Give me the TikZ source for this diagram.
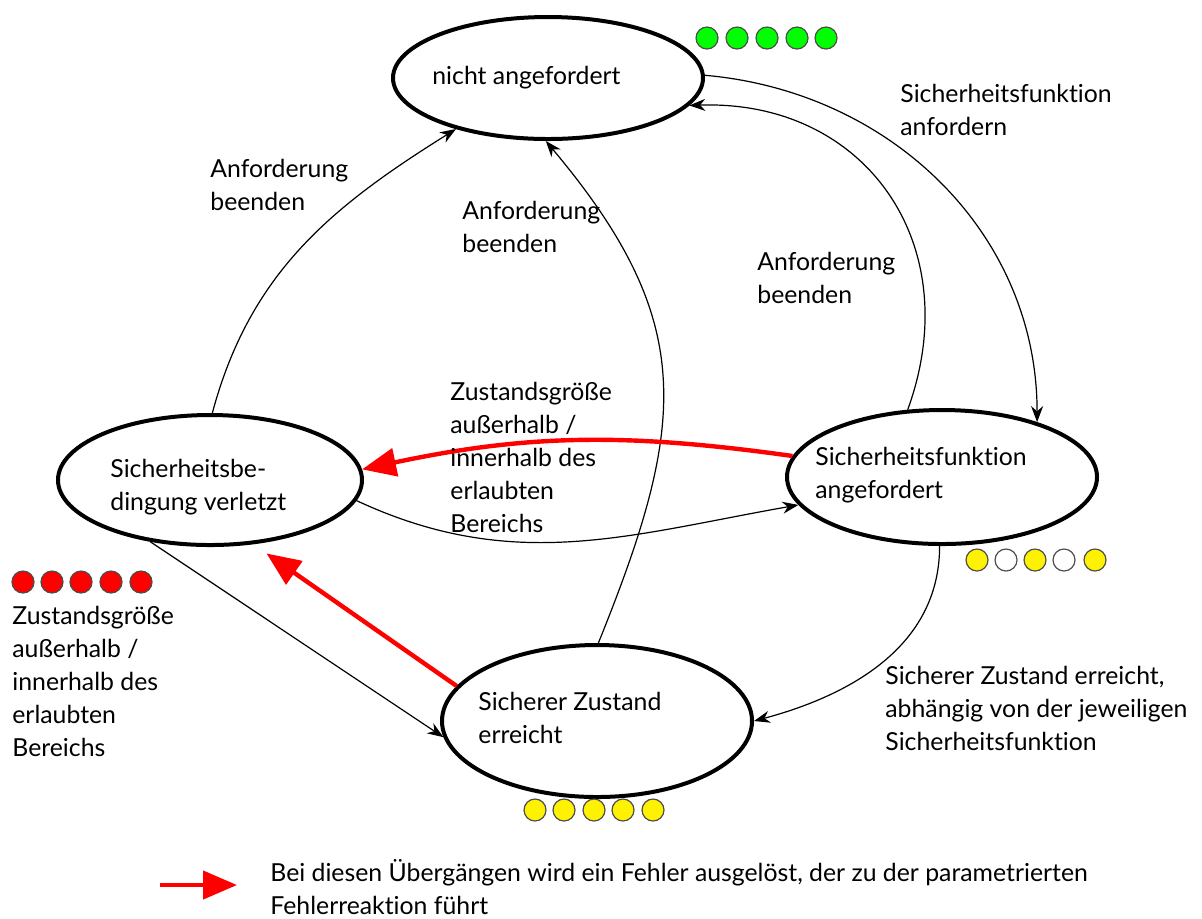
\documentclass[tikz,border=0pt]{standalone}
\usepackage{fontspec}
\setmainfont{Lato}[Ligatures=NoCommon]
\usetikzlibrary{shapes.geometric, arrows.meta, positioning}
\tikzset{
	statebox/.style={draw, ellipse, line width=2pt, inner sep=0pt}
}
\tikzset{
	labeltext/.style={font=\fontsize{12.4}{16.5}\selectfont, align=left, anchor=north west, inner sep=0pt}
}
\tikzset{
	thinarrow/.style={-{Stealth[length=8pt,width=6pt]}, line width=0.6pt}
}
\tikzset{
	errarrow/.style={-{Triangle[length=17pt,width=14pt]}, red, line width=2.2pt}
}
\tikzset{
	lamp/.style={circle, draw=black!70, line width=0.6pt, minimum size=11pt, inner sep=0pt}
}

\begin{document}
\begin{tikzpicture}[x=0.5pt, y=-0.5pt]
      \useasboundingbox (0,0) rectangle (1202,918);
      % states
      \node[statebox, minimum width=155pt, minimum height=61pt] (na) at (548,78) {};
      \node[statebox, minimum width=152pt, minimum height=65pt] (sb) at (210,480) {};
      \node[statebox, minimum width=155pt, minimum height=67pt] (sf) at (942,477) {};
      \node[statebox, minimum width=155pt, minimum height=76pt] (sz) at (597,721) {};
      \node[labeltext] (natext) at (432,66) {nicht angefordert};
      \node[labeltext] (sbtext) at (110,459) {Sicherheitsbe-\\dingung verletzt};
      \node[labeltext] (sftext) at (815,447) {Sicherheitsfunktion\\angefordert};
      \node[labeltext] (sztext) at (478,692) {Sicherer Zustand\\erreicht};
      % lamps
      \foreach \i/\x in {1/707, 2/737, 3/767, 4/797, 5/826}
        \node[lamp, fill=green] (g\i) at (\x,38) {};
      \foreach \i/\x/\c in {1/977/yellow, 2/1006/white, 3/1035/yellow, 4/1064/white, 5/1095/yellow}
        \node[lamp, fill=\c] (w\i) at (\x,560) {};
      \foreach \i/\x in {1/23, 2/52, 3/81, 4/111, 5/141}
        \node[lamp, fill=red] (r\i) at (\x,582) {};
      \foreach \i/\x in {1/535, 2/564, 3/594, 4/623, 5/653}
        \node[lamp, fill=yellow] (y\i) at (\x,810) {};
      % transitions
      \draw[thinarrow] (sb.88) to[out=75,in=212] (na.209);
      \draw[thinarrow] (sz.89) to[out=68,in=-50,looseness=1.2] (na.268);
      \draw[thinarrow] (sf.117) to[out=70,in=2,looseness=1.2] (na.349);
      \draw[thinarrow] (na.1) to[out=-5,in=90] (sf.30);
      \draw[errarrow] (sf.172) to[out=172,in=12] (sb.4);
      \draw[thinarrow] (sb.-8) to[out=-25,in=190] (sf.191);
      \draw[thinarrow] (sb.226) -- (sz.186);
      \draw[errarrow, shorten >=8pt] (sz.166) -- (sb.304);
      \draw[thinarrow] (sf.268) to[out=-90,in=15] (sz.0);
      \node[labeltext] (lbend1) at (210,159) {Anforderung\\beenden};
      \node[labeltext] (lbend2) at (462,201) {Anforderung\\beenden};
      \node[labeltext] (lbend3) at (757,252) {Anforderung\\beenden};
      \node[labeltext] (lreq) at (900,84) {Sicherheitsfunktion\\anfordern};
      \node[labeltext] (lrange) at (450,382) {Zustandsgröße\\außerhalb /\\innerhalb des\\erlaubten\\Bereichs};
      \node[labeltext] (lleft) at (12,606) {Zustandsgröße\\außerhalb /\\innerhalb des\\erlaubten\\Bereichs};
      \node[labeltext] (lsafe) at (885,666) {Sicherer Zustand erreicht,\\abhängig von der jeweiligen\\Sicherheitsfunktion};
      % legend
      \coordinate (legstart) at (160,885);
      \coordinate (legtip) at (237,885);
      \draw[errarrow] (legstart) -- (legtip);
      \node[labeltext] (llegend) at (270,859) {Bei diesen Übergängen wird ein Fehler ausgelöst, der zu der parametrierten\\Fehlerreaktion führt};
    \end{tikzpicture}
\end{document}
